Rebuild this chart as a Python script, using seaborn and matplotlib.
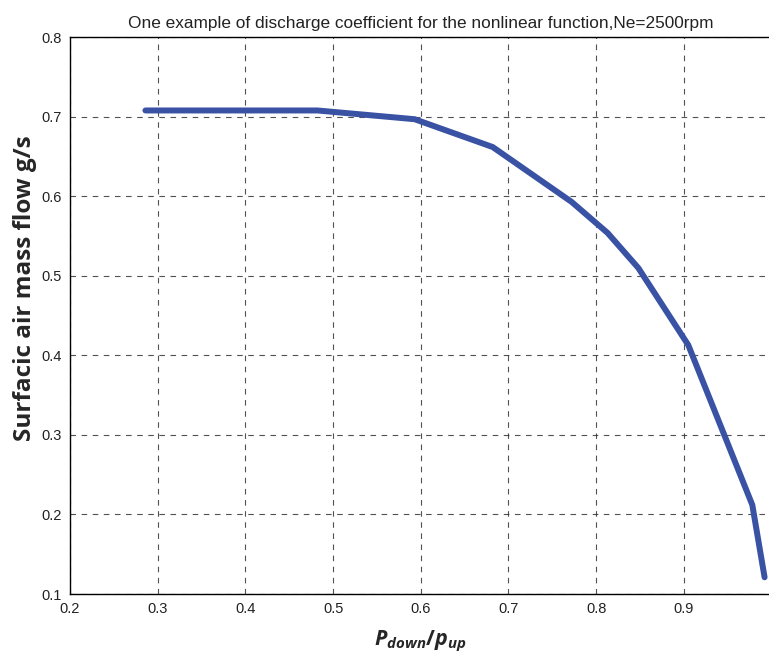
import matplotlib
matplotlib.use("Agg")
import matplotlib.pyplot as plt
import seaborn as sns
import pandas as pd

pressure_ratio = [0.286, 0.482, 0.593, 0.682, 0.772, 0.813, 0.848, 0.905, 0.978, 0.992]
mass_flow = [0.708, 0.708, 0.697, 0.662, 0.593, 0.554, 0.510, 0.413, 0.212, 0.121]
x_ticks = [0.2, 0.3, 0.4, 0.5, 0.6, 0.7, 0.8, 0.9]
y_ticks = [0.1, 0.2, 0.3, 0.4, 0.5, 0.6, 0.7, 0.8]

sns.set_style("white")
plt.rcParams["font.family"] = ["Liberation Sans", "DejaVu Sans"]
plt.rcParams["mathtext.fontset"] = "custom"
plt.rcParams["mathtext.it"] = "Open Sans:italic:bold"
plt.rcParams["mathtext.rm"] = "Open Sans:bold"
plt.rcParams["mathtext.bf"] = "Open Sans:bold"

df = pd.DataFrame({"x": pressure_ratio, "y": mass_flow})

W, H = 769, 657
fig = plt.figure(figsize=(W / 100, H / 100), dpi=100)
ax = fig.add_axes([70 / W, (H - 594) / H, (771.6 - 70) / W, (594 - 37.3) / H])

sns.lineplot(data=df, x="x", y="y", ax=ax, color="#3a52a4", linewidth=4.3,
             sort=False, solid_joinstyle="miter")

ax.set_xlim(0.2, 1.0)
ax.set_ylim(0.1, 0.8)
ax.set_xticks(x_ticks)
ax.set_yticks(y_ticks)
ax.set_xticklabels([f"{v:g}" for v in x_ticks], fontsize=10.5, color="#222222")
ax.set_yticklabels([f"{v:g}" for v in y_ticks], fontsize=10.5, color="#222222")
ax.tick_params(axis="both", direction="in", length=3, width=0.8, color="black", pad=6)
ax.grid(True, color="#333333", linestyle=(0, (5, 5)), linewidth=0.8, alpha=0.85)
for s in ax.spines.values():
    s.set_color("black")
    s.set_linewidth(1.0)
ax.spines["right"].set_visible(False)

ax.set_title("One example of discharge coefficient for the nonlinear function,Ne=2500rpm",
             fontsize=12.4, pad=7, color="#222222")
ax.set_ylabel("Surfacic air mass flow g/s", fontsize=17.5, fontweight="bold",
              family=["Open Sans", "DejaVu Sans"])
ax.yaxis.set_label_coords(-0.047, 0.55)
ax.set_xlabel(r"$P_{down}/p_{up}$", fontsize=15.5, labelpad=9)

fig.savefig("out.png", dpi=100)
